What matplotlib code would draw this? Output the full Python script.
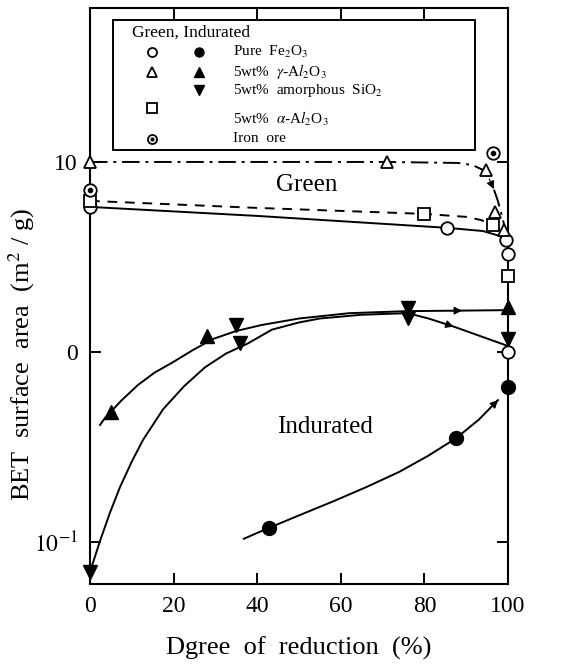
import numpy as np
import matplotlib
matplotlib.use("Agg")
import matplotlib.pyplot as plt
from matplotlib.ticker import NullLocator

plt.rcParams['font.family'] = ['Liberation Serif', 'DejaVu Serif']
plt.rcParams['mathtext.fontset'] = 'stix'

# ---- green pellets (open symbols) ----
g_fe_x = [0, 85.5, 99.5, 100, 100]
g_fe_y = [5.80, 4.50, 3.88, 3.28, 1.0]
g_fe_line_x = [0, 40, 85.5, 94, 98, 100]
g_fe_line_y = [5.80, 5.20, 4.50, 4.33, 4.08, 3.75]

g_gam_x = [0, 71, 94.8, 97, 99]
g_gam_y = [10.0, 10.0, 9.08, 5.45, 4.39]
g_gam_line_x = [0, 71, 88, 91.5, 94, 96, 97.5, 98.5, 99.2]
g_gam_line_y = [10.0, 10.0, 9.88, 9.64, 9.08, 7.85, 6.31, 5.26, 4.55]

g_alp_x = [0, 80, 96.5, 100]
g_alp_y = [6.24, 5.33, 4.66, 2.51]
g_alp_line_x = [0, 40, 80, 90, 93.5, 96.5, 99, 100]
g_alp_line_y = [6.24, 5.73, 5.33, 5.14, 4.95, 4.66, 4.23, 3.88]

ore_x = [0, 96.5]
ore_y = [7.12, 11.15]

# ---- indurated pellets (filled symbols) ----
i_fe_x = [42.8, 87.6, 100]
i_fe_y = [0.1186, 0.352, 0.655]
i_fe_line_x = [36.8, 42.8, 50, 58, 66, 74, 81, 87.6, 93, 97.6]
i_fe_line_y = [0.104, 0.1186, 0.138, 0.163, 0.194, 0.234, 0.285, 0.352, 0.44, 0.558]

i_gam_x = [5, 28, 100]
i_gam_y = [0.483, 1.21, 1.73]
i_gam_line_x = [2.4, 3.6, 7.5, 11.5, 15.5, 19.6, 24.5, 29.4, 35, 41.1, 50, 62, 75.8, 100]
i_gam_line_y = [0.413, 0.450, 0.555, 0.671, 0.78, 0.877, 1.02, 1.17, 1.29, 1.387, 1.50, 1.60, 1.64, 1.66]

i_si_x = [0, 35, 36, 76, 76, 100]
i_si_y = [0.0695, 1.39, 1.11, 1.70, 1.51, 1.17]
i_si_line_x = [0, 2.4, 4.8, 7.2, 10, 12.7, 17.5, 22.5, 27.5, 32.5, 37.8, 43.5, 50, 55, 65, 76, 81, 87, 93, 100]
i_si_line_y = [0.0695, 0.1013, 0.143, 0.195, 0.265, 0.345, 0.50, 0.66, 0.83, 0.98, 1.11, 1.31, 1.43, 1.50, 1.57, 1.60, 1.50, 1.36, 1.22, 1.075]

ticks_x = [0, 20, 40, 60, 80, 100]
ticks_y = [10, 1, 0.1]
ticks_y_labels = ['10', '0', '$10^{-1}$']

fig = plt.figure(figsize=(5.69, 6.64), dpi=100)
ax = fig.add_axes([90/569, 80/664, 418/569, 576/664])
ax.set_yscale('log')
ax.set_xlim(0, 100)
ax.set_ylim(0.0601, 64.6)

lw = 1.4
ax.plot(g_fe_line_x, g_fe_line_y, color='k', lw=lw)
ax.plot(g_alp_line_x, g_alp_line_y, color='k', lw=lw, ls=(0, (5, 4)))
ax.plot(g_gam_line_x, g_gam_line_y, color='k', lw=lw, ls=(0, (9, 3, 1.5, 3)))
ax.plot(i_fe_line_x, i_fe_line_y, color='k', lw=lw)
ax.plot(i_gam_line_x, i_gam_line_y, color='k', lw=lw)
ax.plot(i_si_line_x, i_si_line_y, color='k', lw=lw)


def arrow_on(xs, ys, x0, x1):
    # arrowhead along a curve between two x positions
    ly = np.log10(ys)
    y0 = 10 ** np.interp(x0, xs, ly)
    y1 = 10 ** np.interp(x1, xs, ly)
    ax.annotate('', xy=(x1, y1), xytext=(x0, y0),
                arrowprops=dict(arrowstyle='-|>', color='k', lw=0.8,
                                mutation_scale=12, shrinkA=0, shrinkB=0))


arrow_on(i_fe_line_x, i_fe_line_y, 95, 97.6)
arrow_on(i_gam_line_x, i_gam_line_y, 86, 89)
arrow_on(i_si_line_x, i_si_line_y, 84, 87)
arrow_on(g_gam_line_x, g_gam_line_y, 95.5, 96.6)

ms = 9
ax.plot(g_fe_x, g_fe_y, 'o', ms=ms, mfc='white', mec='k', mew=1.3, ls='none', clip_on=False, zorder=5)
ax.plot(g_gam_x, g_gam_y, '^', ms=ms, mfc='white', mec='k', mew=1.3, ls='none', clip_on=False, zorder=5)
ax.plot(g_alp_x, g_alp_y, 's', ms=8, mfc='white', mec='k', mew=1.3, ls='none', clip_on=False, zorder=5)
ax.plot(ore_x, ore_y, 'o', ms=ms, mfc='white', mec='k', mew=1.3, ls='none', clip_on=False, zorder=5)
ax.plot(ore_x, ore_y, 'o', ms=3, color='k', ls='none', clip_on=False, zorder=6)
ax.plot(i_fe_x, i_fe_y, 'o', ms=10, color='k', ls='none', clip_on=False, zorder=5)
ax.plot(i_gam_x, i_gam_y, '^', ms=10, color='k', ls='none', clip_on=False, zorder=5)
ax.plot(i_si_x, i_si_y, 'v', ms=10, color='k', ls='none', clip_on=False, zorder=5)

ax.text(0.519, 0.693, 'Green', transform=ax.transAxes, fontsize=18,
        ha='center', va='center')
ax.text(0.562, 0.273, 'Indurated', transform=ax.transAxes, fontsize=18,
        ha='center', va='center')

# legend box drawn by hand
box = plt.Rectangle((0.055, 0.753), 0.866, 0.226, transform=ax.transAxes,
                    fill=True, facecolor='white', edgecolor='k', lw=1.4, zorder=7)
ax.add_patch(box)
lt = dict(transform=ax.transAxes, fontsize=11, va='center', ha='left', zorder=8)
ax.text(0.100, 0.957, 'Green, Indurated', fontsize=12.5, transform=ax.transAxes,
        va='center', ha='left', zorder=8)
c1, c2, ct = 0.148, 0.261, 0.342
rows = [0.924, 0.889, 0.857, 0.826, 0.773]
mk = dict(transform=ax.transAxes, ls='none', ms=6.5, clip_on=False, zorder=8)
ax.plot(c1, rows[0], 'o', mfc='white', mec='k', mew=1.3, **mk)
ax.plot(c2, rows[0], 'o', color='k', **mk)
ax.plot(c1, rows[1], '^', mfc='white', mec='k', mew=1.3, **mk)
ax.plot(c2, rows[1], '^', color='k', **mk)
ax.plot(c2, rows[2], 'v', color='k', **mk)
ax.plot(c1, rows[3], 's', mfc='white', mec='k', mew=1.3, **mk)
ax.plot(c1, rows[4], 'o', mfc='white', mec='k', mew=1.3, **mk)
ax.plot(c1, rows[4], 'o', color='k', transform=ax.transAxes, ms=2, zorder=9)
ax.text(ct, rows[0], 'Pure  Fe$_2$O$_3$', **lt)
ax.text(ct, rows[1], r'5wt%  $\gamma$-A$l_2$O$_3$', **lt)
ax.text(ct, rows[2], '5wt%  amorphous  SiO$_2$', **lt)
ax.text(ct, 0.807, r'5wt%  $\alpha$-A$l_2$O$_3$', **lt)
ax.text(ct, rows[4], 'Iron  ore', **lt)

ax.set_xticks(ticks_x)
ax.set_yticks(ticks_y)
ax.set_yticklabels(ticks_y_labels)
ax.yaxis.set_minor_locator(NullLocator())
ax.tick_params(which='both', direction='in', top=True, right=True,
               length=8, width=1.4, labelsize=17, pad=9)
for s in ax.spines.values():
    s.set_linewidth(1.5)

ax.set_xlabel('Dgree  of  reduction  (%)', fontsize=19, labelpad=14)
fig.text(22/569, 1 - 355/664, 'BET  surface  area  (m$^2$ / g)', fontsize=19,
         rotation=90, ha='center', va='center')

fig.savefig('out.png', dpi=100)
